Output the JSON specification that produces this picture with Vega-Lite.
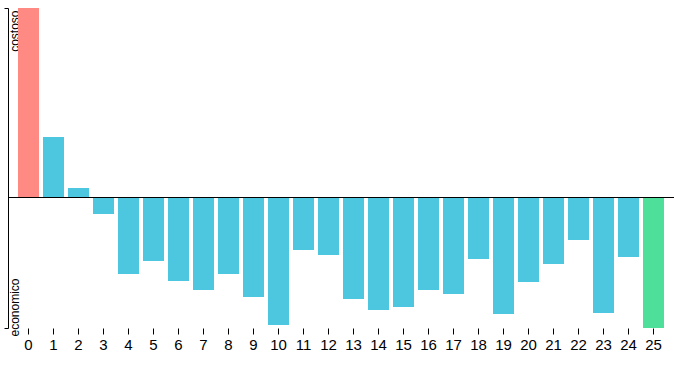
{
  "$schema": "https://vega.github.io/schema/vega-lite/v6.json",
  "width": 666,
  "height": 320,
  "autosize": {"type": "none"},
  "padding": {"left": 8, "top": 8, "right": 0, "bottom": 38},
  "background": "white",
  "config": {"view": {"stroke": null}, "font": "Liberation Sans"},
  "data": {"values": [
    {"k": "0", "v": 189, "t": "costoso"},
    {"k": "1", "v": 60, "t": "medio"},
    {"k": "2", "v": 9, "t": "medio"},
    {"k": "3", "v": -17, "t": "medio"},
    {"k": "4", "v": -77, "t": "medio"},
    {"k": "5", "v": -64, "t": "medio"},
    {"k": "6", "v": -84, "t": "medio"},
    {"k": "7", "v": -93, "t": "medio"},
    {"k": "8", "v": -77, "t": "medio"},
    {"k": "9", "v": -100, "t": "medio"},
    {"k": "10", "v": -128, "t": "medio"},
    {"k": "11", "v": -53, "t": "medio"},
    {"k": "12", "v": -58, "t": "medio"},
    {"k": "13", "v": -102, "t": "medio"},
    {"k": "14", "v": -113, "t": "medio"},
    {"k": "15", "v": -110, "t": "medio"},
    {"k": "16", "v": -93, "t": "medio"},
    {"k": "17", "v": -97, "t": "medio"},
    {"k": "18", "v": -62, "t": "medio"},
    {"k": "19", "v": -117, "t": "medio"},
    {"k": "20", "v": -85, "t": "medio"},
    {"k": "21", "v": -67, "t": "medio"},
    {"k": "22", "v": -43, "t": "medio"},
    {"k": "23", "v": -116, "t": "medio"},
    {"k": "24", "v": -60, "t": "medio"},
    {"k": "25", "v": -131, "t": "economico"}
  ]},
  "layer": [
    {
      "mark": {"type": "bar"},
      "encoding": {
        "x": {
          "field": "k", "type": "ordinal", "sort": null,
          "scale": {"type": "band", "paddingInner": 0.16, "paddingOuter": 0.4},
          "axis": {
            "title": null, "domain": false, "labelAngle": 0,
            "tickColor": "black", "tickSize": 6, "labelPadding": 3,
            "labelFontSize": 15, "labelColor": "black", "labelFont": "Liberation Sans"
          }
        },
        "y": {
          "field": "v", "type": "quantitative",
          "scale": {"domain": [-131, 189], "nice": false},
          "axis": {
            "title": null, "grid": false, "values": [-131, 189],
            "domainColor": "black", "tickColor": "black", "tickSize": 4,
            "labelExpr": "datum.value > 0 ? 'costoso' : 'economico'",
            "labelAngle": -90, "labelBaseline": "alphabetic",
            "labelAlign": {"condition": {"test": "datum.value > 0", "value": "right"}, "value": "left"},
            "labelOffset": {"condition": {"test": "datum.value > 0", "value": 2}, "value": 8},
            "labelPadding": -14.5, "labelOverlap": false,
            "labelFontSize": 12, "labelColor": "black", "labelFont": "Liberation Sans"
          }
        },
        "color": {
          "field": "t", "type": "nominal", "legend": null,
          "scale": {"domain": ["costoso", "medio", "economico"], "range": ["#ff8a84", "#4dc7e0", "#4ee09b"]}
        }
      }
    },
    {
      "mark": {"type": "rule", "color": "black", "strokeWidth": 1, "yOffset": 0.5},
      "encoding": {"y": {"datum": 0, "type": "quantitative"}}
    }
  ]
}
